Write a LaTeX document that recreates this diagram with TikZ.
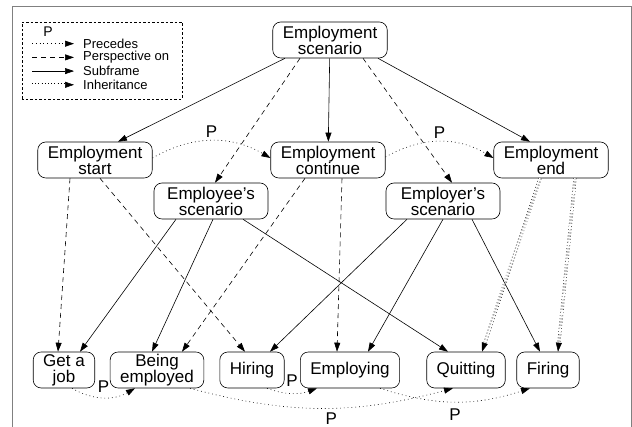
\documentclass[tikz,border=0pt]{standalone}
\usepackage{fontspec}
\setmainfont{Liberation Sans}
\usetikzlibrary{arrows.meta}

\begin{document}
\begin{tikzpicture}[x=1pt,y=1pt,
  frame/.style={draw,rounded corners=8pt,align=center,font=\fontsize{17}{16}\selectfont,
    inner xsep=10pt,inner ysep=1pt,minimum height=36pt,line width=0.6pt},
  wide/.style={frame,minimum width=114pt},
  sub/.style={-{Triangle[length=9pt,width=6pt]},line width=0.6pt},
  persp/.style={sub,dash pattern=on 5pt off 4pt},
  prec/.style={sub,dash pattern=on 0.8pt off 3pt},
  inher/.style={sub,double,double distance=2.2pt,line width=0.5pt,dash pattern=on 0.8pt off 2.4pt},
  plab/.style={font=\fontsize{17}{17}\selectfont,inner sep=1pt}]
  \useasboundingbox (0,0) rectangle (632,427);
  \draw[gray,line width=0.8pt] (12,-10) rectangle (631,421);

  % legend
  \draw[dash pattern=on 2.5pt off 2pt,line width=0.6pt] (22,328) rectangle (182,405);
  \node[font=\fontsize{14}{14}\selectfont,inner sep=0pt] (legp) at (48,395) {P};
  \foreach \lsty/\ltext [count=\i] in {prec/Precedes,persp/Perspective on,sub/Subframe,inher/Inheritance} {
    \coordinate (la\i) at (32,397-13.7*\i);
    \coordinate (lb\i) at (74,397-13.7*\i);
    \draw[\lsty] (la\i) -- (lb\i);
    \node[anchor=west,font=\fontsize{13}{13}\selectfont,inner sep=1pt] (lt\i) at (82,397-13.7*\i) {\ltext};
  }

  % frames
  \node[wide] (empscen) at (330,387) {Employment\\scenario};
  \node[wide] (empstart) at (95,267) {Employment\\start};
  \node[wide] (empcont) at (328,267) {Employment\\continue};
  \node[wide] (empend) at (551,267) {Employment\\end};
  \node[wide] (eescen) at (211,226) {Employee's\\scenario};
  \node[wide] (erscen) at (443,226) {Employer's\\scenario};
  \node[frame] (getjob) at (64,57) {Get a\\job};
  \node[frame] (beingemp) at (157,57) {Being\\employed};
  \node[frame] (hiring) at (252,57) {Hiring};
  \node[frame] (employing) at (350,57) {Employing};
  \node[frame] (quitting) at (466,57) {Quitting};
  \node[frame] (firing) at (548,57) {Firing};

  % subframes
  \draw[sub] ([xshift=-45pt]empscen.south) -- ([xshift=23pt]empstart.north);
  \draw[sub] (empscen) -- (empcont);
  \draw[sub] ([xshift=48pt]empscen.south) -- ([xshift=-21pt]empend.north);
  \draw[sub] ([xshift=-35pt]eescen.south) -- ([xshift=16pt]getjob.north);
  \draw[sub] ([xshift=2pt]eescen.south) -- ([xshift=-5pt]beingemp.north);
  \draw[sub] ([xshift=32pt]eescen.south) -- ([xshift=-18pt]quitting.north);
  \draw[sub] ([xshift=-36pt]erscen.south) -- ([xshift=18pt]hiring.north);
  \draw[sub] (erscen.south) -- ([xshift=18pt]employing.north);
  \draw[sub] ([xshift=29pt]erscen.south) -- ([xshift=-8pt]firing.north);

  % perspectives
  \draw[persp] ([xshift=-30pt]empscen.south) -- ([xshift=4pt]eescen.north);
  \draw[persp] ([xshift=33pt]empscen.south) -- ([xshift=9pt]erscen.north);
  \draw[persp] ([xshift=-25pt]empstart.south) -- ([xshift=-6pt]getjob.north);
  \draw[persp] ([xshift=5pt]empstart.south) -- ([xshift=-7pt]hiring.north);
  \draw[persp] ([xshift=-23pt]empcont.south) -- ([xshift=25pt]beingemp.north);
  \draw[persp] ([xshift=14pt]empcont.south) -- ([xshift=-13pt]employing.north);

  % inheritance
  \draw[inher] ([xshift=-11pt]empend.south) -- ([xshift=16pt]quitting.north);
  \draw[inher] ([xshift=24pt]empend.south) -- ([xshift=10pt]firing.north);

  % precedes
  \draw[prec] ([yshift=2pt]empstart.east) to[bend left=30] node[plab,above=2pt] (p1) {P} ([yshift=2pt]empcont.west);
  \draw[prec] ([yshift=3pt]empcont.east) to[bend left=30] node[plab,above=2pt] (p2) {P} ([yshift=2pt]empend.west);
  \draw[prec] ([xshift=8pt]getjob.south) to[bend right=30] node[plab,above=4pt] (p3) {P} ([xshift=-22pt]beingemp.south);
  \draw[prec] ([xshift=15pt]hiring.south) to[bend right=20] node[plab,above=5pt] (p4) {P} ([xshift=-33pt]employing.south);
  \draw[prec] ([xshift=33pt]beingemp.south) to[bend right=15] node[plab,below=3pt,pos=0.54] (p5) {P} ([xshift=-13pt]quitting.south);
  \draw[prec] ([xshift=30pt]employing.south) to[bend right=18] node[plab,below=6pt] (p6) {P} ([xshift=-18pt]firing.south);
\end{tikzpicture}
\end{document}
